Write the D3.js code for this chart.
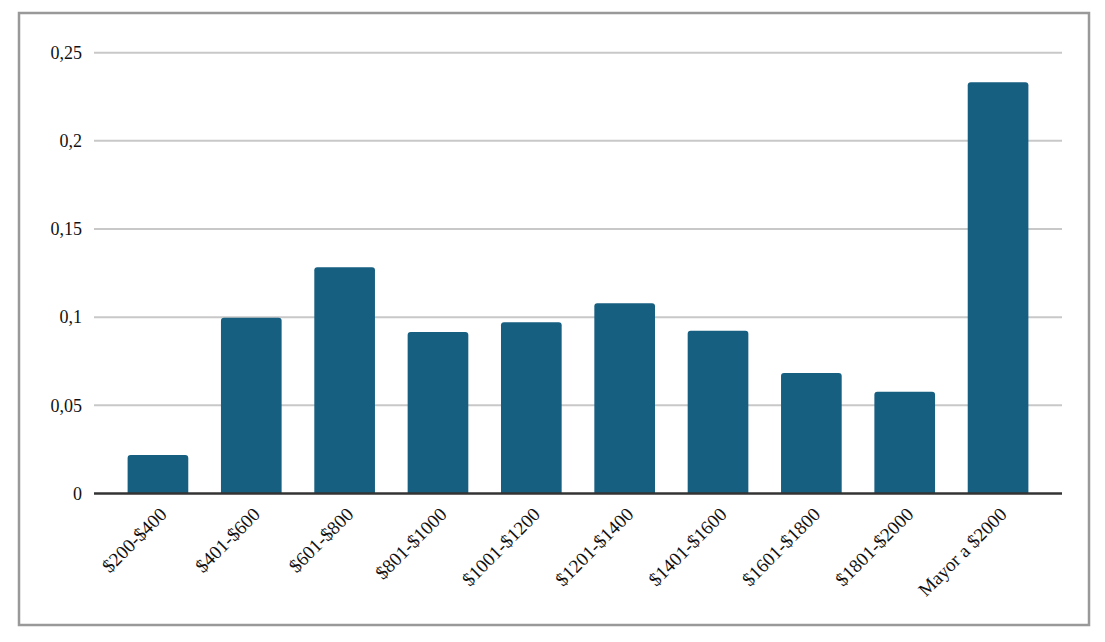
<!DOCTYPE html>
<html><head><meta charset="utf-8">
<script src="https://cdn.jsdelivr.net/npm/d3@7"></script>
<style>body{margin:0;background:#fff}svg{display:block}</style>
</head><body>
<svg id="c" width="1105" height="642"></svg>
<script>
const categories = ["$200-$400","$401-$600","$601-$800","$801-$1000","$1001-$1200","$1201-$1400","$1401-$1600","$1601-$1800","$1801-$2000","Mayor a $2000"];
const values = [0.0218,0.0997,0.1283,0.0916,0.0971,0.1079,0.0923,0.0683,0.0577,0.2332];
const yTicks = [0,0.05,0.1,0.15,0.2,0.25];
const yTickLabels = ["0","0,05","0,1","0,15","0,2","0,25"];

const svg = d3.select("#c");
svg.append("rect").attr("x",19).attr("y",13).attr("width",1070).attr("height",612)
  .attr("fill","#fff").attr("stroke","#999").attr("stroke-width",2.5);

const x0 = 94, x1 = 1062, yTop = 52.7, yBot = 493.5;
const x = d3.scaleBand().domain(categories).range([x0,x1]).paddingInner(0.35).paddingOuter(0.36);
const y = d3.scaleLinear().domain([0,0.25]).range([yBot,yTop]);

const font = "'Liberation Serif','Times New Roman',serif";

// gridlines
svg.append("g").selectAll("line").data(yTicks.filter(d=>d>0)).join("line")
  .attr("x1",x0).attr("x2",x1).attr("y1",d=>y(d)).attr("y2",d=>y(d))
  .attr("stroke","#c8c8c8").attr("stroke-width",2);

// y labels
svg.append("g").selectAll("text").data(yTicks).join("text")
  .attr("x",82).attr("y",d=>y(d)).attr("dy","0.35em")
  .attr("text-anchor","end").attr("font-family",font).attr("font-size",18).attr("fill","#111")
  .text((d,i)=>yTickLabels[i]);

// bars with rounded top corners
const r = 3;
svg.append("g").selectAll("path").data(values).join("path")
  .attr("d",(d,i)=>{
    const bx = x(categories[i]), bw = x.bandwidth(), ty = y(d), by = y(0);
    return `M${bx},${by}V${ty+r}Q${bx},${ty} ${bx+r},${ty}H${bx+bw-r}Q${bx+bw},${ty} ${bx+bw},${ty+r}V${by}Z`;
  })
  .attr("fill","#175f81");

// baseline
svg.append("line").attr("x1",x0).attr("x2",x1).attr("y1",y(0)).attr("y2",y(0))
  .attr("stroke","#333").attr("stroke-width",2.5);

// x labels
svg.append("g").selectAll("text").data(categories).join("text")
  .attr("transform",d=>`translate(${x(d)+x.bandwidth()/2+10},${y(0)+22}) rotate(-45)`)
  .attr("text-anchor","end").attr("font-family",font).attr("font-size",19).attr("fill","#111")
  .text(d=>d);
</script>
</body></html>
